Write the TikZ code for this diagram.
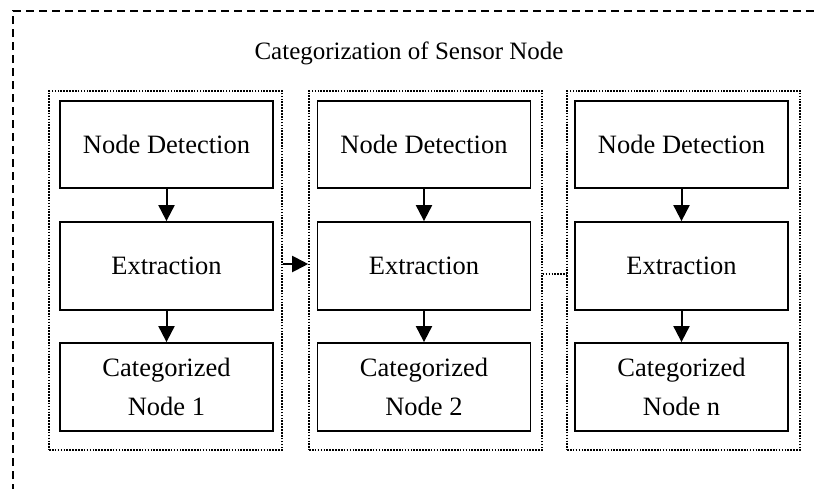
\documentclass[tikz,border=0pt]{standalone}
\usepackage{fontspec}
\setmainfont{Liberation Serif}
\usetikzlibrary{arrows.meta}
\begin{document}
\begin{tikzpicture}[x=1pt,y=-1pt,
  stagebox/.style={draw,line width=1.8pt,minimum width=213pt,minimum height=88pt,inner sep=0pt,align=center,font=\fontsize{26.5}{39}\selectfont},
  groupbox/.style={draw,line width=1.6pt,dash pattern=on 1.6pt off 1.3pt,minimum width=233pt,minimum height=359pt,inner sep=0pt},
  flow/.style={line width=2pt,-{Triangle[length=16pt,width=16pt]}},
  outer/.style={line width=1.6pt,dash pattern=on 8pt off 5pt},
  link/.style={line width=1.6pt,dash pattern=on 1.6pt off 1.3pt}]
\useasboundingbox (0,0) rectangle (819,488);
\begin{scope}
\clip (0,0) rectangle (819,488);
\coordinate (ob) at (13,492);
\coordinate (oc) at (13,11);
\coordinate (or) at (822,11);
\draw[outer] (ob) -- (oc) -- (or);
\end{scope}
\node[font=\fontsize{25}{31}\selectfont] (title) at (409,53) {Categorization of Sensor Node};
% groups
\node[groupbox] (g1) at (165.5,270.5) {};
\node[groupbox] (g2) at (425.5,270.5) {};
\node[groupbox] (g3) at (683.5,270.5) {};
% column 1
\node[stagebox,minimum height=87pt] (d1) at (166.5,144.5) {Node Detection};
\node[stagebox] (e1) at (166.5,266) {Extraction};
\node[stagebox] (c1) at (166.5,387) {Categorized\\Node 1};
% column 2
\node[stagebox,minimum height=87pt] (d2) at (424,144.5) {Node Detection};
\node[stagebox] (e2) at (424,266) {Extraction};
\node[stagebox] (c2) at (424,387) {Categorized\\Node 2};
% column 3
\node[stagebox,minimum height=87pt] (d3) at (681.5,144.5) {Node Detection};
\node[stagebox] (e3) at (681.5,266) {Extraction};
\node[stagebox] (c3) at (681.5,387) {Categorized\\Node n};
% arrows
\foreach \i in {1,2,3}{
  \draw[flow] (d\i) -- (e\i);
  \draw[flow] (e\i) -- (c\i);
}
\draw[flow] (g1.east |- 0,264) -- (g2.west |- 0,264);
\draw[link] (g2.east |- 0,274) -- (g3.west |- 0,274);
\end{tikzpicture}
\end{document}
